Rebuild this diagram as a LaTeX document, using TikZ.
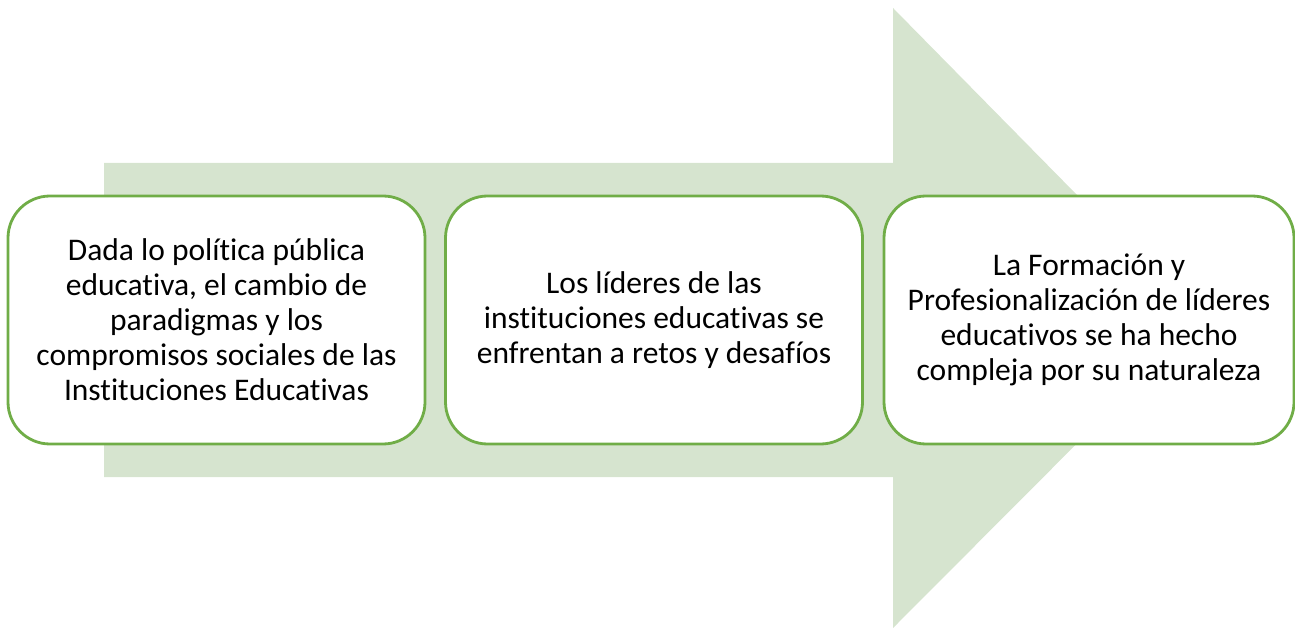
\documentclass[tikz,border=0pt]{standalone}
\usepackage{fontspec}
\setmainfont{Carlito}[Ligatures=NoCommon]
\definecolor{arrowfill}{HTML}{D6E4CF}
\definecolor{boxline}{HTML}{70AD47}
\begin{document}
\begin{tikzpicture}[x=1pt,y=-1pt,
  stagebox/.style={draw=boxline, line width=2.8pt, fill=white, rounded corners=42pt,
    minimum width=#1, minimum height=248pt, inner sep=0pt, align=center,
    font=\fontsize{31.5}{35}\selectfont, text=black},
  stagebox/.default=417pt]
\useasboundingbox (0,0) rectangle (1295,628);
\clip (0,0) rectangle (1295,628);
\fill[arrowfill] (104,163) -- (893,163) -- (893,8) -- (1200,320) -- (893,628) -- (893,477) -- (104,477) -- cycle;
\node[stagebox] (b1) at (216.5,320) {Dada lo política pública\\educativa, el cambio de\\paradigmas y los\\compromisos sociales de las\\Instituciones Educativas};
\node[stagebox] (b2) at (654,320) {Los líderes de las\\instituciones educativas se\\enfrentan a retos y desafíos};
\node[stagebox=410pt] (b3) at (1089,320) {La Formación y\\Profesionalización de líderes\\educativos se ha hecho\\compleja por su naturaleza};
\end{tikzpicture}
\end{document}
